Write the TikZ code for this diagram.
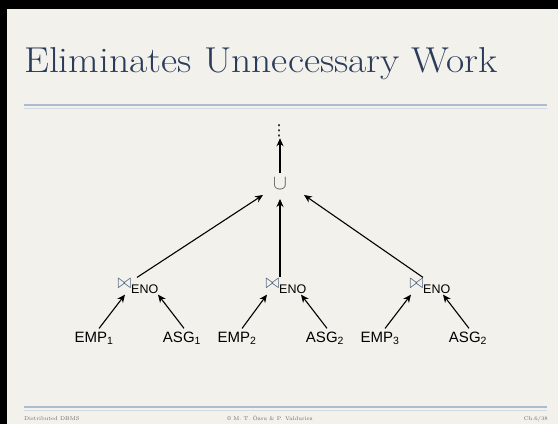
\documentclass[tikz,border=0pt]{standalone}
\usepackage{fontspec}
\usepackage{amssymb}
\usetikzlibrary{arrows.meta}
\newfontfamily\labelfont{Liberation Sans}
\newfontfamily\symfont{DejaVu Sans}
\definecolor{slidebg}{HTML}{F3F1EC}
\definecolor{titleblue}{HTML}{2B3C5A}
\definecolor{ruleblue}{HTML}{AEBCCF}
\definecolor{joinblue}{HTML}{46587A}
\definecolor{footgray}{HTML}{6A6A6A}
\newcommand{\joinop}{{\color{joinblue}\fontsize{20}{20}\selectfont\scalebox{0.8}[1]{$\bowtie$}}\raisebox{-5pt}{\fontsize{12.5}{13}\selectfont ENO}}

\begin{document}
\begin{tikzpicture}[x=1pt, y=-1pt, every node/.style={font=\labelfont\fontsize{15}{17}\selectfont},
  rel/.style={inner sep=3pt, anchor=base},
  jn/.style={inner sep=1pt},
  arr/.style={-{Stealth[length=8pt,width=7pt]}, line width=1.1pt},
  footer/.style={font=\fontsize{5.5}{6}\selectfont, text=footgray, inner sep=0, anchor=base}]
            \useasboundingbox (0,0) rectangle (558,424);
            \fill[slidebg] (0,0) rectangle (558,424);
            \fill[black] (0,0) rectangle (558,9);
            \fill[black] (0,0) rectangle (7,424);
            \node[anchor=base west, inner sep=0, xscale=1.1, font=\fontsize{36}{36}\selectfont, text=titleblue] (title) at (24,72) {Eliminates Unnecessary Work};
            \draw[ruleblue, line width=2.6pt] (24,105) -- (547,105);
            \draw[ruleblue!55, line width=0.8pt] (24,107.9) -- (547,107.9);
            \draw[ruleblue, line width=2.6pt] (24,407) -- (547,407);
            \draw[ruleblue!55, line width=0.8pt] (24,409.9) -- (547,409.9);
            \node[footer, anchor=base west] (ftl) at (24,420) {Distributed DBMS};
            \node[footer] (ftc) at (270,420) {\textcopyright\ M. T. \"Ozsu \& P. Valduriez};
            \node[footer, anchor=base east] (ftr) at (548,420) {Ch.6/38};

            \node[inner sep=1pt, font=\symfont\fontsize{15}{15}\selectfont] (dots) at (279,131) {⋮};
            \node[inner sep=5pt, text=black!65, font=\fontsize{22}{22}\selectfont] (u) at (280,184) {$\cup$};
            \node[jn] (j1) at (138,286) {\joinop};
            \node[jn] (j2) at (286,286) {\joinop};
            \node[jn] (j3) at (430,286) {\joinop};
            \node[rel] (e1) at (94,342) {EMP\textsubscript{1}};
            \node[rel] (a1) at (182,342) {ASG\textsubscript{1}};
            \node[rel] (e2) at (237,342) {EMP\textsubscript{2}};
            \node[rel] (a2) at (325,342) {ASG\textsubscript{2}};
            \node[rel] (e3) at (380,342) {EMP\textsubscript{3}};
            \node[rel] (a3) at (468,342) {ASG\textsubscript{2}};

            \draw[arr] (u) -- (u |- dots.south);
            \draw[arr] ([xshift=-1pt]j1.north) -- ([xshift=-17pt]u.south);
            \draw[arr, shorten >=4pt] (u.south |- j2.north) -- (u.south);
            \draw[arr] ([xshift=-7pt]j3.north) -- ([xshift=24pt]u.south);
            \draw[arr] ([xshift=5pt]e1.north) -- ([xshift=-13pt]j1.south);
            \draw[arr] ([xshift=2pt]a1.north) -- ([xshift=20pt]j1.south);
            \draw[arr] ([xshift=5pt]e2.north) -- ([xshift=-19pt]j2.south);
            \draw[arr] ([xshift=2pt]a2.north) -- ([xshift=15pt]j2.south);
            \draw[arr] ([xshift=5pt]e3.north) -- ([xshift=-19pt]j3.south);
            \draw[arr] ([xshift=1pt]a3.north) -- ([xshift=13pt]j3.south);
        \end{tikzpicture}
\end{document}
